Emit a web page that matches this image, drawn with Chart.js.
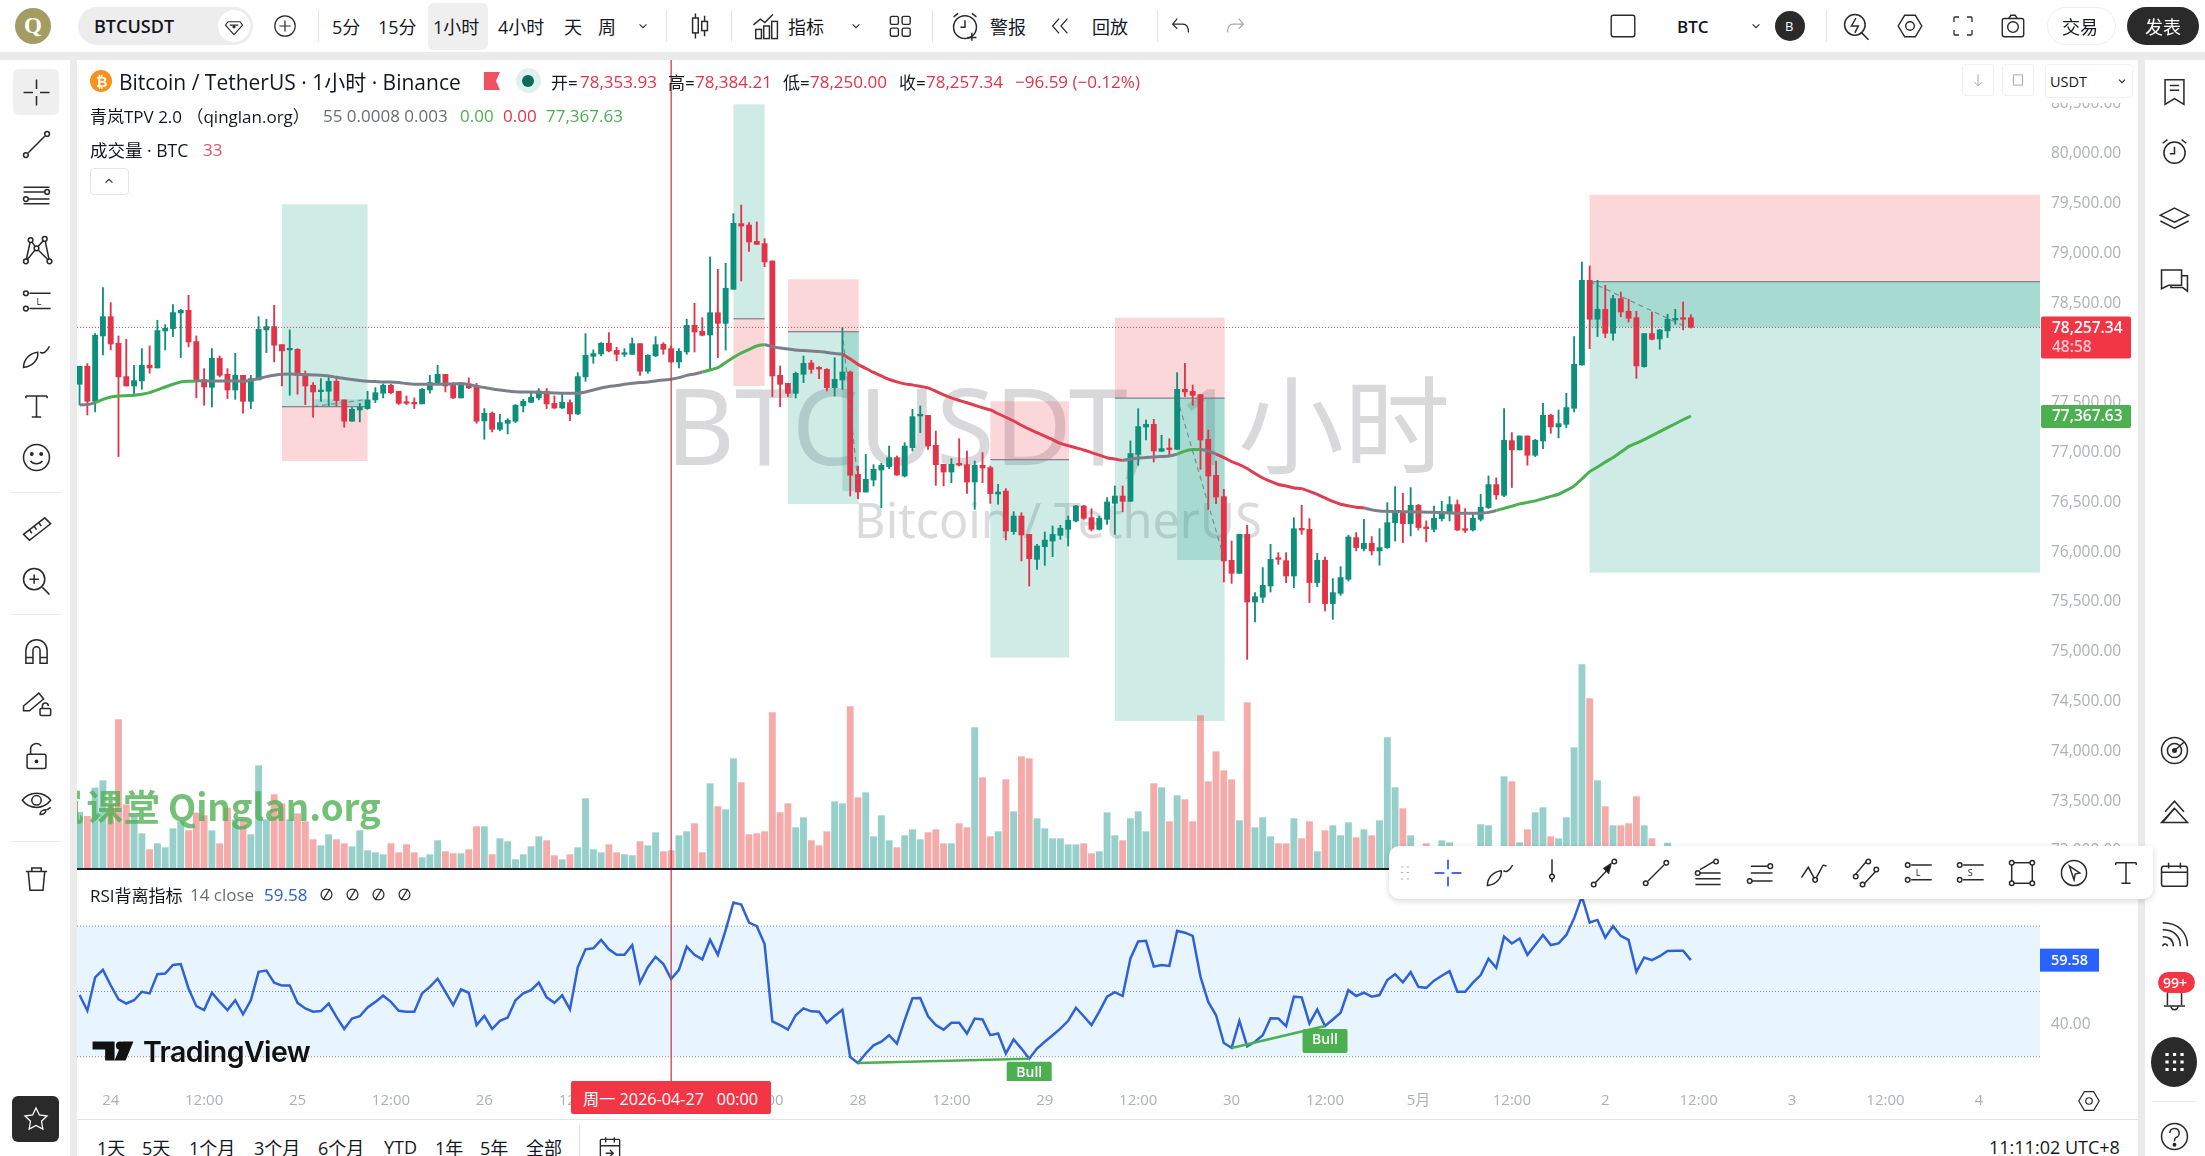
<!DOCTYPE html>
<html>
<head>
<meta charset="utf-8">
<title>BTCUSDT 1小时</title>
<script src="https://cdn.jsdelivr.net/npm/chart.js@4/dist/chart.umd.js"></script>
<style>
  html, body { margin: 0; padding: 0; width: 2205px; height: 1156px; overflow: hidden; background: #ebebeb;
    font-family: "Open Sans", "Noto Sans CJK SC", sans-serif; color: #131722; }
  canvas { position: absolute; z-index: 3; }
  .b { position: absolute; box-sizing: border-box; }
  .t { position: absolute; transform: translateY(-50%); white-space: nowrap; z-index: 6; }
  svg { position: absolute; z-index: 6; fill: none; stroke: #2a2a2a; stroke-width: 1.3; }
  .up { color: #089981; } .dn { color: #e23449; }
</style>
</head>
<body>
<script>
// OHLC of the 1h bars, Apr 23 20:00 -> May 2 11:00
const opens = [
  77686,77867,77515,78171,78365,78098,77763,77669,77720,77877,
  77850,78222,78245,78402,78429,78115,77733,77656,77947,77786,
  77629,77776,77515,77730,78232,78265,78084,78031,78037,77776,
  77676,77612,77616,77716,77529,77315,77428,77442,77529,77596,
  77676,77616,77502,77495,77489,77629,77696,77786,77683,77549,
  77686,77663,77318,77395,77234,77294,77315,77469,77505,77549,
  77616,77495,77448,77502,77388,77760,77967,77991,78098,78027,
  77987,77987,78094,77817,77971,78088,78044,77910,78011,78278,
  78218,78181,78405,78298,78640,79299,79285,79121,79098,78924,
  77776,77696,77595,77786,77900,77846,77836,77652,77729,77809,
  76782,76604,76725,76825,76859,76949,76765,77050,77368,77374,
  77073,76882,76805,76882,76879,76705,76872,76849,76584,76614,
  76206,76363,76179,75928,76055,76112,76169,76230,76313,76464,
  76347,76230,76330,76491,76564,76511,76983,77257,77284,77013,
  77040,77033,77635,77615,77582,77133,76772,76558,75918,75788,
  76179,75500,75547,75661,75935,75915,75761,76230,76230,75695,
  75919,75484,75587,75728,76146,76036,76090,76013,76046,76297,
  76407,76287,76471,76247,76230,76337,76397,76478,76230,76223,
  76330,76448,76679,76571,77120,77027,77167,76973,77117,77375,
  77258,77284,77445,77880,78730,78339,78439,78198,78546,78419,
  78355,77863,78195,78141,78222,78332,78349,78353.93
];
const highs = [
  77867,77894,78195,78657,78506,78171,78138,77877,78044,78071,
  78329,78285,78486,78439,78580,78171,77843,78044,77971,77843,
  77997,77776,77776,78365,78339,78479,78084,78232,78044,77820,
  77703,77743,77760,77750,77529,77452,77495,77616,77653,77689,
  77689,77616,77569,77549,77643,77776,77877,77786,77703,77696,
  77750,77696,77442,77408,77385,77341,77482,77535,77602,77643,
  77643,77569,77596,77529,77803,78195,78031,78104,78205,78058,
  78044,78151,78094,77984,78165,78104,78071,78044,78339,78499,
  78355,78964,78840,78901,79399,79486,79309,79316,79148,78924,
  77870,77696,77809,77970,77927,77863,77843,77953,78255,77819,
  76865,76983,76879,76892,77066,76966,77100,77435,77468,77374,
  77217,76882,76939,77140,77016,76915,77000,76865,76681,76638,
  76407,76397,76179,76079,76203,76263,76270,76363,76471,76471,
  76437,76363,76548,76665,76665,77117,77441,77327,77334,77174,
  77140,77803,77896,77679,77585,77227,76915,76631,76112,76179,
  76270,75594,75845,76079,75995,75995,76347,76471,76337,75989,
  75952,75735,75855,76170,76197,76330,76157,76237,76498,76659,
  76592,76649,76481,76314,76464,76511,76558,76525,76438,76381,
  76582,76766,76746,77442,77201,77167,77167,77134,77495,77385,
  77428,77596,78165,78914,78874,78730,78680,78580,78613,78540,
  78419,78195,78412,78238,78389,78439,78513,78384.21
];
const lows = [
  77479,77378,77408,77981,78031,76960,77669,77569,77636,77797,
  77850,78031,78165,77954,78061,77549,77475,77458,77760,77542,
  77535,77395,77442,77730,78004,77910,77669,77576,77586,77482,
  77355,77515,77469,77469,77254,77315,77308,77435,77502,77549,
  77592,77482,77482,77442,77489,77596,77686,77609,77542,77549,
  77643,77294,77134,77207,77218,77187,77301,77408,77502,77529,
  77442,77442,77442,77321,77381,77716,77897,77971,78011,77920,
  77964,77984,77776,77797,77964,77987,77904,77850,77987,78010,
  78171,77836,77953,78030,78640,78723,79021,79091,78867,77562,
  77461,77562,77548,77702,77796,77742,77619,77568,77635,76564,
  76537,76604,76665,76447,76839,76772,76755,77016,77200,77033,
  76671,76665,76698,76865,76591,76430,76698,76490,76481,76123,
  76179,75912,75660,75828,75868,75955,76129,76062,76303,76330,
  76213,76223,76280,76179,76404,76511,76872,77127,76906,77013,
  76966,77033,77562,77475,76832,76430,76487,75701,75687,75788,
  74924,75299,75494,75600,75878,75694,75644,76180,75494,75654,
  75410,75326,75567,75711,76013,76013,75972,75869,76039,76113,
  76096,76163,76223,76103,76203,76314,76314,76217,76197,76213,
  76314,76438,76531,76558,76649,77027,76873,76960,77040,77194,
  77147,77251,77408,77877,78044,78165,78155,78128,78365,78312,
  77746,77857,78131,78037,78155,78289,78232,78250
];
const closes = [
  77867,77515,78178,78365,78091,77760,77669,77723,77877,77850,
  78225,78248,78406,78429,78111,77720,77659,77947,77776,77629,
  77776,77515,77743,78238,78265,78078,78021,78037,77776,77669,
  77609,77622,77716,77522,77315,77435,77458,77529,77602,77676,
  77602,77495,77495,77489,77636,77703,77786,77669,77549,77683,
  77649,77315,77395,77234,77301,77325,77475,77515,77555,77619,
  77489,77448,77505,77388,77763,77977,77994,78098,78021,77987,
  77994,78094,77817,77977,78084,78037,77910,78017,78278,78211,
  78178,78405,78298,78650,79302,79275,79115,79091,78914,77769,
  77686,77595,77796,77896,77836,77839,77652,77736,77809,76772,
  76604,76732,76832,76872,76949,76775,77066,77361,77374,77066,
  76879,76805,76882,76875,76705,76872,76845,76588,76604,76213,
  76363,76173,75935,76062,76122,76179,76240,76320,76464,76340,
  76230,76340,76504,76564,76511,76990,77261,77284,77016,77040,
  77030,77635,77609,77575,77127,76765,76554,75912,75788,76179,
  75500,75554,75667,75928,75928,75761,76236,76223,75695,75919,
  75484,75594,75745,76153,76046,76090,76013,76046,76297,76407,
  76287,76471,76247,76237,76340,76404,76478,76223,76220,76340,
  76451,76679,76575,77124,77027,77167,76973,77124,77375,77258,
  77291,77452,77887,78730,78339,78439,78198,78546,78412,78349,
  77870,78195,78138,78232,78339,78345,78339,78257.34
];
const volumes = [
  680,632,972,1060,772,1792,772,632,424,232,
  304,256,484,568,460,672,640,460,304,732,
  592,592,412,1240,592,892,784,592,664,568,
  352,280,412,352,304,268,460,220,196,172,
  304,196,292,196,136,172,340,208,184,184,
  232,508,508,172,364,328,112,172,268,388,
  340,160,112,172,256,844,232,196,292,196,
  172,160,328,280,436,208,220,400,448,544,
  196,1024,748,712,1324,1036,412,424,448,1876,
  676,784,496,616,340,280,448,808,784,1948,
  856,916,388,640,340,256,400,472,352,436,
  472,304,304,544,496,1696,1096,388,448,1072,
  688,1348,1324,604,484,364,364,292,292,304,
  184,208,676,400,340,604,688,448,1024,976,
  568,880,832,568,1840,1048,1408,1180,1072,580,
  1996,496,616,388,304,304,604,364,568,208,
  460,520,400,556,376,472,400,580,1576,976,
  724,400,272,304,252,340,316,232,192,232,
  532,520,232,1108,1048,316,472,676,736,388,
  364,616,1456,2452,2044,1060,748,520,520,544,
  868,520,364,272,312,272,252,33
];
const emaValues = [
  77479,77482,77502,77535,77559,77569,77572,77576,77586,77602,
  77629,77659,77686,77709,77716,77720,77720,77720,77720,77720,
  77720,77716,77726,77743,77763,77776,77786,77790,77786,77783,
  77780,77776,77770,77756,77743,77733,77723,77716,77713,77709,
  77709,77703,77693,77686,77686,77686,77686,77689,77689,77693,
  77683,77666,77653,77639,77629,77619,77612,77609,77609,77606,
  77602,77599,77596,77596,77596,77609,77629,77649,77663,77673,
  77686,77696,77703,77709,77720,77730,77736,77753,77775,77790,
  77809,77830,77853,77905,77955,78000,78035,78070,78084,78064,
  78050,78040,78030,78025,78020,78014,78005,77995,77987,77940,
  77886,77845,77805,77770,77735,77710,77690,77680,77665,77650,
  77615,77580,77550,77525,77500,77475,77450,77428,77390,77355,
  77317,77275,77235,77200,77165,77130,77093,77070,77048,77026,
  77000,76975,76949,76935,76922,76935,76945,76950,76955,76960,
  76966,76985,77015,77030,77030,77016,76985,76950,76910,76880,
  76840,76790,76745,76710,76680,76665,76645,76638,76610,76580,
  76545,76510,76481,76465,76452,76444,76425,76414,76410,76408,
  76407,76405,76403,76402,76401,76397,76394,76391,76391,76391,
  76391,76400,76418,76440,76462,76485,76500,76515,76538,76560,
  76582,76620,76665,76735,76809,76855,76905,76950,77005,77060,
  77095,77130,77170,77210,77250,77290,77330,77367.63
];
// bar index where the EMA colour changes, and which trend it takes from there
const trendStarts = [0, 2, 15, 80, 88, 98, 134, 141, 144, 146, 165, 182];
const trendNames = ['flat','up','flat','up','flat','down','flat','up','flat','down','flat','up'];
const rsiValues = [
  48.9,44.1,54.3,56.6,51.9,47.6,46.3,47.3,49.9,49.4,
  55.3,55.5,58.1,58.4,50.9,45.5,44.3,49.6,46.8,44.3,
  47.3,43.0,47.3,56.0,56.4,52.7,51.8,51.8,46.5,44.8,
  43.8,44.0,46.3,42.2,38.5,41.7,42.4,45.1,46.8,48.7,
  46.8,44.1,43.8,43.8,49.4,51.4,53.9,49.9,45.8,50.6,
  49.6,39.7,42.5,38.5,41.0,42.0,47.3,49.4,50.4,52.7,
  48.2,46.5,48.8,44.5,57.4,62.9,63.2,65.8,62.9,61.2,
  61.2,64.2,52.7,57.4,60.6,58.4,53.8,56.6,63.7,61.2,
  59.8,65.8,61.2,68.8,77.2,76.6,71.1,70.0,64.5,40.8,
  39.7,38.3,42.7,44.8,43.9,43.8,40.4,42.5,44.4,29.9,
  28.1,31.0,33.5,34.6,36.6,34.0,41.2,47.9,48.0,42.4,
  39.7,38.3,40.4,40.4,37.1,41.7,41.4,36.6,37.1,31.0,
  35.3,32.5,29.4,32.5,34.6,36.6,38.6,41.0,45.0,42.4,
  39.7,43.8,48.4,49.8,48.6,60.1,65.3,65.5,57.6,58.1,
  57.8,68.6,68.0,67.0,54.5,46.8,42.7,34.2,32.7,41.0,
  33.2,34.6,36.6,41.8,41.7,39.4,48.4,48.2,40.2,44.5,
  39.4,41.4,43.5,50.4,48.6,49.6,48.4,48.9,53.5,55.3,
  52.8,55.9,51.4,51.1,53.3,54.8,56.2,49.9,49.9,52.7,
  55.0,60.0,57.2,66.8,64.7,66.2,61.2,64.2,67.3,64.2,
  64.7,67.3,72.4,79.1,71.1,71.9,66.5,70.0,67.0,65.8,
  56.0,60.4,59.6,60.8,62.4,62.5,62.5,59.58
];
// long/short position tools: bar range and price levels
const boxStart = [26, 84, 91, 117, 133, 194];
const boxEnd = [37, 88, 100.1, 127.1, 147.1, 251.85];
const boxUpper = [79493, 80497, 78740, 77515, 78355, 79589];
const boxEntry = [77462, 78345, 78215, 76930, 77548, 78717];
const boxLower = [76916, 77669, 76484, 74942, 74305, 75795];
const boxIsLong = [true, true, false, false, false, false];
// the played out part of four of them, with the dashed path
const pathStart = [30, 98, 141, 194];
const pathEnd = [37, 100.1, 147.1, 206.5];
const pathFrom = [77462, 78215, 77548, 78717];
const pathTo = [77535, 76614, 75922, 78257];
const priceTicks = [73000,73500,74000,74500,75000,75500,76000,76500,77000,77500,78000,78500,79000,79500,80000,80500];
const rsiTicks = [40, 60, 80];
const rsiLevels = [70, 50, 30];
const timeTickBars = [4,16,28,40,52,64,76,88,100,112,124,136,148,160,172,184,196,208,220,232,244];
const timeTickLabels = ['24','12:00','25','12:00','26','12:00','27','12:00','28','12:00','29','12:00','30','12:00','5月','12:00','2','12:00','3','12:00','4'];
const bullBars = [[100, 122], [148, 160]];
const bullRsi = [[28.1, 29.4], [32.7, 39.4]];
const crosshairBar = 76;
const lastPrice = 78257.34;
const lastEma = 77367.63;
const lastRsi = 59.58;

const X_MIN = -0.33, X_MAX = 251.85;
const COL_UP = '#0e8f7c', COL_DOWN = '#e23449';
const TREND_COL = { up: '#4caf50', down: '#de3e50', flat: '#7d7f88' };
const FONT = '"Open Sans", "Noto Sans CJK SC", sans-serif';
const AXIS_GREY = '#adb0b8';

const bars = closes.map((c, i) => i);
const isUp = i => closes[i] >= opens[i];

function trendColor(i) {
  let k = 0;
  while (k + 1 < trendStarts.length && trendStarts[k + 1] <= i) k++;
  return TREND_COL[trendNames[k]];
}

// --- page chrome helpers ---
function box(x, y, w, h, css) {
  const el = document.createElement('div');
  el.className = 'b';
  el.style.cssText = `left:${x}px;top:${y}px;width:${w}px;height:${h}px;` + (css || '');
  document.body.appendChild(el);
  return el;
}
function put(x, y, html, css) {
  const el = document.createElement('div');
  el.className = 't';
  el.style.cssText = `left:${x}px;top:${y}px;font-size:17px;` + (css || '');
  el.innerHTML = html;
  document.body.appendChild(el);
  return el;
}
function icon(cx, cy, size, markup, css) {
  const holder = document.createElement('div');
  holder.innerHTML = `<svg viewBox="0 0 28 28" width="${size}" height="${size}" style="left:${cx - size / 2}px;top:${cy - size / 2}px;${css || ''}">${markup}</svg>`;
  document.body.appendChild(holder.firstChild);
}

// backgrounds
box(0, 0, 2205, 52, 'background:#fff;');
box(0, 60, 70, 1096, 'background:#fff;');
box(2145, 60, 60, 1096, 'background:#fff;');
box(77, 60, 2061, 1096, 'background:#fff;');
box(77, 1119, 2061, 1, 'background:#e3e3e3;z-index:4;');

// watermarks sit under the canvas
put(1058, 419, 'BTCUSDT, 1小时', 'transform:translate(-50%,-50%);font-size:106px;color:#d9d9dc;z-index:1;font-family:"Noto Sans","Noto Sans CJK SC",sans-serif;font-weight:400;');
put(1058, 519, 'Bitcoin / TetherUS', 'transform:translate(-50%,-50%);font-size:48.5px;color:#dbdbde;z-index:1;font-family:"Noto Sans",sans-serif;font-weight:400;');

// --- charts ---
function addCanvas(x, y, w, h) {
  const c = document.createElement('canvas');
  c.width = w; c.height = h;
  c.style.cssText = `left:${x}px;top:${y}px;width:${w}px;height:${h}px;`;
  document.body.appendChild(c);
  return c;
}
function pointsOf(values) { return values.map((v, i) => ({ x: i, y: v })); }
function xScale(display) {
  return {
    type: 'linear', min: X_MIN, max: X_MAX, offset: false, display: display,
    grid: { display: false, drawTicks: false }, border: { display: false },
    afterBuildTicks: s => { s.ticks = timeTickBars.map(v => ({ value: v })); },
    afterFit: s => { s.height = display ? 38 : 0; s.paddingLeft = 0; s.paddingRight = 0; },
    ticks: {
      autoSkip: false, maxRotation: 0, minRotation: 0, padding: 11, color: AXIS_GREY,
      font: { size: 15, family: FONT },
      callback: v => timeTickLabels[timeTickBars.indexOf(v)]
    }
  };
}
function priceScale(tickList, fmt, min, max) {
  return {
    type: 'linear', position: 'right', min: min, max: max,
    grid: { display: false, drawTicks: false }, border: { display: false },
    afterBuildTicks: s => { s.ticks = tickList.map(v => ({ value: v })); },
    afterFit: s => { s.width = 97; s.paddingTop = 0; s.paddingBottom = 0; },
    ticks: { padding: 11, color: AXIS_GREY, font: { size: 15.5, family: FONT }, callback: fmt }
  };
}
const money = v => v.toLocaleString('en-US', { minimumFractionDigits: 2, maximumFractionDigits: 2 });

function priceTag(ctx, area, y, h, col, lines) {
  ctx.fillStyle = col;
  ctx.beginPath();
  ctx.roundRect(area.right + 1, y, 90, h, 2);
  ctx.fill();
  ctx.textBaseline = 'middle';
  ctx.textAlign = 'left';
  ctx.font = '600 15.5px ' + FONT;
  lines.forEach((ln, k) => {
    ctx.fillStyle = ln.col;
    ctx.fillText(ln.text, area.right + 12, y + ln.dy);
  });
}

const positionTools = {
  id: 'positionTools',
  beforeDatasetsDraw(chart) {
    const { ctx, chartArea: a, scales: { x, y } } = chart;
    const GREEN = 'rgba(8,153,129,0.2)', RED = 'rgba(242,54,69,0.2)';
    ctx.save();
    ctx.beginPath(); ctx.rect(a.left, a.top, a.width, a.height); ctx.clip();
    boxStart.forEach((b, k) => {
      const x0 = x.getPixelForValue(b), x1 = x.getPixelForValue(boxEnd[k]);
      const top = y.getPixelForValue(boxUpper[k]), mid = y.getPixelForValue(boxEntry[k]), bot = y.getPixelForValue(boxLower[k]);
      ctx.fillStyle = boxIsLong[k] ? GREEN : RED;
      ctx.fillRect(x0, top, x1 - x0, mid - top);
      ctx.fillStyle = boxIsLong[k] ? RED : GREEN;
      ctx.fillRect(x0, mid, x1 - x0, bot - mid);
      ctx.fillStyle = '#7d8088';
      ctx.fillRect(x0, mid - 0.5, x1 - x0, 1.2);
    });
    pathStart.forEach((b, k) => {
      const x0 = x.getPixelForValue(b), x1 = x.getPixelForValue(k === 3 ? X_MAX : pathEnd[k]);
      const y0 = y.getPixelForValue(pathFrom[k]), y1 = y.getPixelForValue(k === 3 ? lastPrice : pathTo[k]);
      ctx.fillStyle = 'rgba(8,153,129,0.2)';
      ctx.fillRect(x0, Math.min(y0, y1), x1 - x0, Math.abs(y1 - y0));
    });
    ctx.restore();
  },
  afterDatasetsDraw(chart) {
    const { ctx, chartArea: a, scales: { x, y } } = chart;
    ctx.save();
    // dashed paths over the candles
    ctx.strokeStyle = 'rgba(110,115,125,0.75)';
    ctx.lineWidth = 1.2;
    ctx.setLineDash([5, 4]);
    pathStart.forEach((b, k) => {
      ctx.beginPath();
      ctx.moveTo(x.getPixelForValue(b), y.getPixelForValue(pathFrom[k]));
      ctx.lineTo(x.getPixelForValue(pathEnd[k]), y.getPixelForValue(pathTo[k]));
      ctx.stroke();
    });
    ctx.setLineDash([]);
    // crosshair
    const cx = x.getPixelForValue(crosshairBar);
    ctx.strokeStyle = '#c9404a';
    ctx.lineWidth = 1.3;
    ctx.beginPath(); ctx.moveTo(cx, a.top); ctx.lineTo(cx, a.bottom); ctx.stroke();
    // last price and EMA tags on the axis
    const py = y.getPixelForValue(lastPrice);
    priceTag(ctx, a, py - 11, 42, '#f23645', [
      { text: money(lastPrice), col: '#fff', dy: 12 },
      { text: '48:58', col: '#ffc6cc', dy: 31 }
    ]);
    const ey = y.getPixelForValue(lastEma);
    priceTag(ctx, a, ey - 11, 23, '#4caf50', [{ text: money(lastEma), col: '#fff', dy: 12 }]);
    ctx.restore();
  }
};

new Chart(addCanvas(77, 60, 2060, 809), {
  type: 'bar',
  plugins: [positionTools],
  data: {
    datasets: [
      {
        type: 'line', label: 'EMA', data: pointsOf(emaValues), yAxisID: 'y', pointRadius: 0, borderWidth: 3,
        tension: 0.2, borderColor: TREND_COL.flat, segment: { borderColor: c => trendColor(c.p0DataIndex) }
      },
      {
        type: 'line', label: 'last', data: [{ x: X_MIN, y: lastPrice }, { x: X_MAX, y: lastPrice }], yAxisID: 'y',
        pointRadius: 0, borderWidth: 1, borderColor: '#b5505c', borderDash: [1, 2]
      },
      {
        label: 'body', data: bars.map(i => ({ x: i, y: [opens[i], closes[i]] })), yAxisID: 'y', grouped: false,
        barThickness: 5.2, minBarLength: 1.6, borderWidth: 0,
        backgroundColor: bars.map(i => isUp(i) ? COL_UP : COL_DOWN)
      },
      {
        label: 'wick', data: bars.map(i => ({ x: i, y: [lows[i], highs[i]] })), yAxisID: 'y', grouped: false,
        barThickness: 1.2, borderWidth: 0,
        backgroundColor: bars.map(i => isUp(i) ? COL_UP : COL_DOWN)
      },
      {
        label: 'volume', data: bars.map(i => ({ x: i, y: volumes[i] })), yAxisID: 'yVol', grouped: false,
        barThickness: 6.2, borderWidth: 0,
        backgroundColor: bars.map(i => isUp(i) ? 'rgba(28,150,140,0.46)' : 'rgba(232,80,76,0.48)')
      }
    ]
  },
  options: {
    responsive: false, animation: false, events: [],
    layout: { padding: 0 },
    plugins: { legend: { display: false }, tooltip: { enabled: false } },
    scales: {
      x: xScale(false),
      y: priceScale(priceTicks, money, 72819, 80942),
      yVol: { type: 'linear', display: false, min: 0, max: 9708 }
    }
  }
});

const rsiDecor = {
  id: 'rsiDecor',
  beforeDatasetsDraw(chart) {
    const { ctx, chartArea: a, scales: { y } } = chart;
    const hi = y.getPixelForValue(rsiLevels[0]), lo = y.getPixelForValue(rsiLevels[2]);
    ctx.save();
    ctx.fillStyle = 'rgba(33,150,243,0.1)';
    ctx.fillRect(a.left, hi, a.width, lo - hi);
    ctx.strokeStyle = '#85888f';
    ctx.lineWidth = 1;
    ctx.setLineDash([1, 2]);
    rsiLevels.forEach(l => {
      const p = y.getPixelForValue(l);
      ctx.beginPath(); ctx.moveTo(a.left, p); ctx.lineTo(a.right, p); ctx.stroke();
    });
    ctx.restore();
  },
  afterDatasetsDraw(chart) {
    const { ctx, chartArea: a, scales: { x, y } } = chart;
    ctx.save();
    ctx.beginPath(); ctx.rect(a.left, a.top, a.width, a.height); ctx.clip();
    bullBars.forEach((pair, k) => {
      const px = x.getPixelForValue(pair[1]), py = y.getPixelForValue(bullRsi[k][1]) + 3;
      ctx.fillStyle = '#4caf50';
      ctx.beginPath(); ctx.roundRect(px - 22.5, py, 45, 24, 2); ctx.fill();
      ctx.fillStyle = '#fff';
      ctx.font = '600 14px ' + FONT;
      ctx.textAlign = 'center';
      ctx.textBaseline = 'middle';
      ctx.fillText('Bull', px, py + 11);
    });
    const cx = x.getPixelForValue(crosshairBar);
    ctx.strokeStyle = '#c9404a';
    ctx.lineWidth = 1.3;
    ctx.beginPath(); ctx.moveTo(cx, a.top); ctx.lineTo(cx, a.bottom); ctx.stroke();
    ctx.restore();
    ctx.save();
    const ry = y.getPixelForValue(lastRsi);
    ctx.fillStyle = '#2962ff';
    ctx.fillRect(a.right, ry - 11.5, 59, 23);
    ctx.fillStyle = '#fff';
    ctx.font = '600 14.5px ' + FONT;
    ctx.textAlign = 'center';
    ctx.textBaseline = 'middle';
    ctx.fillText(lastRsi.toFixed(2), a.right + 29.5, ry + 0.5);
    ctx.restore();
  }
};

new Chart(addCanvas(77, 869, 2060, 250), {
  type: 'line',
  plugins: [rsiDecor],
  data: {
    datasets: [
      {
        label: 'bull1', data: bullBars[0].map((b, k) => ({ x: b, y: bullRsi[0][k] })),
        pointRadius: 0, borderWidth: 2.6, borderColor: '#4caf50'
      },
      {
        label: 'bull2', data: bullBars[1].map((b, k) => ({ x: b, y: bullRsi[1][k] })),
        pointRadius: 0, borderWidth: 2.6, borderColor: '#4caf50'
      },
      { label: 'RSI', data: pointsOf(rsiValues), pointRadius: 0, borderWidth: 2.5, borderColor: '#2f62d6' }
    ]
  },
  options: {
    responsive: false, animation: false, events: [],
    layout: { padding: 0 },
    plugins: { legend: { display: false }, tooltip: { enabled: false } },
    scales: {
      x: xScale(true),
      y: priceScale(rsiTicks, v => v.toFixed(2), 22.57, 87.5)
    }
  }
});

// --- things drawn over the charts ---
box(77, 868, 1963, 2, 'background:#1c1f26;z-index:4;');
box(2041, 60, 96, 43, 'background:#fff;z-index:4;');

// green site watermark, clipped by the pane edge
const site = box(77, 781, 320, 50, 'overflow:hidden;z-index:5;');
site.innerHTML = '<div style="position:absolute;left:-30px;top:0;white-space:nowrap;font-size:36.6px;font-weight:700;line-height:50px;color:rgba(76,175,80,.78);font-family:\'Noto Sans CJK SC\',sans-serif;">岚<span style="margin-left:3px;">课堂 Qinglan.org</span></div>';

// TradingView mark
icon(113, 1051, 44, '<path d="M3 8h14v12h-6v-7H3z M29 8h-7l-5 12h7z" transform="translate(-2,0)" fill="#111" stroke="none"/><circle cx="18.5" cy="10.6" r="2.6" fill="#111" stroke="none"/>');
put(143, 1051, 'TradingView', 'font-family:Inter,sans-serif;font-weight:600;font-size:28.5px;letter-spacing:-0.6px;color:#111;');

// crosshair date on the time axis
box(571, 1081, 200, 33, 'background:#f23645;border-radius:2px;z-index:5;');
put(583, 1098, '周一 2026-04-27&nbsp;&nbsp;&nbsp;00:00', 'color:#fff;font-size:16.2px;');

// legend rows
box(90, 70, 22, 22, 'background:#f7931a;border-radius:50%;z-index:6;');
put(96, 81, '₿', 'color:#fff;font-size:14px;font-weight:700;');
put(119, 81, 'Bitcoin / TetherUS · 1小时 · Binance', 'font-size:21px;');
box(484, 72, 16, 18, 'background:#f0525f;clip-path:polygon(0 0,100% 0,75% 50%,100% 100%,0 100%);z-index:6;');
box(516, 68, 25, 25, 'background:#dff1ee;border-radius:50%;z-index:6;');
box(522, 75, 12, 12, 'background:#0b6b5b;border-radius:50%;z-index:6;');
const ohlcRow = [[551,'开=',''],[580,'78,353.93','dn'],[668,'高=',''],[695,'78,384.21','dn'],[783,'低=',''],[810,'78,250.00','dn'],[899,'收=',''],[926,'78,257.34','dn'],[1015,'−96.59 (−0.12%)','dn']];
ohlcRow.forEach(r => put(r[0], 81, r[1]).classList.add(r[2] || 'x'));
put(90, 115, '青岚TPV 2.0 （qinglan.org）');
put(323, 115, '55 0.0008 0.003', 'color:#6a6d78;');
put(460, 115, '0.00', 'color:#4caf50;');
put(503, 115, '0.00', 'color:#e23449;');
put(546, 115, '77,367.63', 'color:#4caf50;');
put(90, 149, '成交量 · BTC', 'font-size:17.5px;');
put(203, 149, '33', 'color:#e0555e;');
box(90, 168, 39, 27, 'background:#fff;border:1px solid #e3e5ea;border-radius:4px;z-index:6;');
icon(109, 181, 16, '<path d="M8 17l6-6 6 6" stroke-width="2"/>');

put(90, 894, 'RSI背离指标');
put(190, 894, '14 close', 'color:#6a6d78;');
put(264, 894, '59.58', 'color:#2962c8;');
[326, 352, 378, 404].forEach(x => icon(x, 894, 19, '<circle cx="14" cy="14" r="8" stroke-width="1.8"/><path d="M9 22 19 6" stroke-width="1.8"/>'));

// price pane corner buttons
box(1962, 64, 32, 32, 'background:#fff;border:1px solid #f0f0f2;border-radius:4px;z-index:6;');
icon(1978, 80, 18, '<path d="M14 5v18M8 17l6 6 6-6" stroke="#999"/>');
box(2002, 64, 32, 32, 'background:#fff;border:1px solid #f0f0f2;border-radius:4px;z-index:6;');
icon(2018, 80, 18, '<path d="M7 9V6h14v3M7 19v3h14v-3M7 9v10M21 9v10" stroke="#999"/>');
box(2045, 64, 88, 34, 'background:#fff;border:1px solid #f0f0f2;border-radius:4px;z-index:6;');
put(2050, 81, 'USDT', 'font-size:14.5px;');
icon(2122, 81, 12, '<path d="M7 11l7 7 7-7" stroke-width="2.4"/>');

// top toolbar
box(15, 8, 36, 36, 'background:#a39c63;border-radius:50%;z-index:6;');
put(24, 26, 'Q', 'color:#fff;font:700 23px "Liberation Serif",serif;');
box(78, 7, 175, 38, 'background:#ededed;border-radius:19px;z-index:5;');
put(94, 26, 'BTCUSDT', 'font-size:18px;font-weight:600;');
box(218, 10, 32, 32, 'background:#fff;border-radius:50%;z-index:6;');
icon(234, 26, 24, '<path d="M7 9h14l3 4-10 11L4 13z M9 13h10"/><circle cx="14" cy="15" r="1.2" fill="#222"/>', 'z-index:7;');
icon(285, 26, 26, '<circle cx="14" cy="14" r="11"/><path d="M14 8v12M8 14h12"/>');
[318, 666, 731, 932, 1157, 1826].forEach(x => box(x, 10, 1, 32, 'background:#e4e4e4;z-index:6;'));
box(428, 3, 60, 47, 'background:#efefef;border-radius:6px;z-index:5;');
[[332,'5分'],[378,'15分'],[433,'1小时'],[498,'4小时'],[564,'天'],[598,'周'],[788,'指标'],[990,'警报'],[1092,'回放']].forEach(t => put(t[0], 26, t[1], 'font-size:18px;'));
put(1677, 26, 'BTC', 'font-size:17px;font-weight:600;');
const chevron = '<path d="M8 11l6 6 6-6" stroke-width="1.8"/>';
[[643, 26], [856, 26], [1756, 26]].forEach(p => icon(p[0], p[1], 16, chevron));
icon(700, 26, 32, '<path d="M10 3v22M18 5v18"/><rect x="7.5" y="7" width="5" height="13" fill="#fff"/><rect x="15.5" y="10" width="5" height="8" fill="#fff"/>');
icon(766, 26, 32, '<path d="M3 13 9 8l4 3 7-7"/><rect x="5" y="17" width="5" height="8"/><rect x="12" y="14" width="5" height="11"/><rect x="19" y="10" width="5" height="15"/>');
icon(900, 26, 30, '<rect x="5" y="5" width="7.5" height="7.5" rx="1.5"/><rect x="16" y="5" width="7.5" height="7.5" rx="1.5"/><rect x="5" y="16" width="7.5" height="7.5" rx="1.5"/><rect x="16" y="16" width="7.5" height="7.5" rx="1.5"/>');
icon(965, 26, 32, '<circle cx="14" cy="15" r="10"/><path d="M14 9v6h-4M4 6l4-3M24 6l-4-3M20 20v7M16 24h8"/>');
icon(1060, 26, 26, '<path d="M13 6 6 14l7 8M22 6l-7 8 7 8"/>');
icon(1181, 26, 26, '<path d="M10 6 5 12l5 5M5 12h11c4 0 6 3 6 9"/>');
icon(1235, 26, 26, '<path d="M18 6l5 6-5 5M23 12H12c-4 0-6 3-6 9" stroke="#aaa"/>');
icon(1623, 26, 30, '<rect x="3" y="4" width="22" height="20" rx="2"/>');
box(1775, 11, 30, 30, 'background:#2a2a2a;border-radius:50%;z-index:6;');
put(1785, 26, 'B', 'color:#fff;font-size:13px;');
icon(1856, 26, 32, '<circle cx="13" cy="13" r="9"/><path d="M19 20l6 6M14 7l-4 7h6l-3 6"/>');
icon(1910, 26, 30, '<path d="M9 4h10l6 10-6 10H9L3 14z"/><circle cx="14" cy="14" r="4"/>');
icon(1963, 26, 28, '<path d="M5 10V6a1 1 0 0 1 1-1h4M18 5h4a1 1 0 0 1 1 1v4M23 18v4a1 1 0 0 1-1 1h-4M10 23H6a1 1 0 0 1-1-1v-4"/>');
icon(2013, 26, 30, '<rect x="4" y="7" width="20" height="17" rx="2"/><circle cx="14" cy="15" r="5"/><path d="M10 7l2-3h4l2 3"/>');
box(2047, 7, 69, 38, 'background:#fff;border:1px solid #eee;border-radius:19px;z-index:5;');
put(2062, 26, '交易', 'font-size:18px;');
box(2127, 7, 72, 38, 'background:#2a2a2a;border-radius:19px;z-index:5;');
put(2145, 26, '发表', 'font-size:18px;color:#fff;');

// left toolbar
box(13, 69, 46, 46, 'background:#efefef;border-radius:6px;z-index:5;');
const iconLine = '<circle cx="5" cy="23" r="2"/><circle cx="23" cy="5" r="2"/><path d="M7 21 21 7"/>';
const iconChannel = '<path d="M3 7h22M3 11h18M7 17h18M3 21h22"/><circle cx="23" cy="11" r="2" fill="#fff"/><circle cx="5" cy="17" r="2" fill="#fff"/>';
const iconFork = '<path d="M5 24 9 6l5 7 7-8 4 19M5 24l9-11 11 11"/><circle cx="9" cy="6" r="2" fill="#fff"/><circle cx="21" cy="5" r="2" fill="#fff"/><circle cx="14" cy="13" r="2" fill="#fff"/><circle cx="5" cy="24" r="2" fill="#fff"/><circle cx="25" cy="24" r="2" fill="#fff"/>';
const iconLong = '<path d="M8 7h18M8 20h18"/><circle cx="5" cy="7" r="2"/><circle cx="5" cy="20" r="2"/>';
const iconBrush = '<path d="M3 25c0-7 5-12 12-13 1 6-4 12-12 13zM17 12c3 2 6-1 8-5"/>';
const iconText = '<path d="M5 5h18M14 5v18M10 23h8M5 5v2M23 5v2"/>';
const iconCross = '<path d="M14 3v8M14 17v8M3 14h8M17 14h8"/>';
[[92,iconCross],[144,iconLine],[195,iconChannel],[249,iconFork],[301,iconLong+'<text x="14" y="17" font-size="8" fill="#222" stroke="none">L</text>'],[354,iconBrush],[406,iconText],
 [457,'<circle cx="14" cy="14" r="11"/><path d="M9 17c2 3 8 3 10 0"/><circle cx="10" cy="11" r="1" fill="#222"/><circle cx="18" cy="11" r="1" fill="#222"/>'],
 [528,'<path d="M3 19 21 5l5 5L8 24zM8 15l2 3M12 12l2 3M16 9l2 3"/>'],
 [581,'<circle cx="12" cy="12" r="9"/><path d="M12 8v8M8 12h8M19 19l6 6"/>'],
 [651,'<path d="M5 24V13a9 9 0 0 1 18 0v11h-6V13a3 3 0 0 0-6 0v11zM5 19h6M17 19h6"/>'],
 [702,'<path d="M3 17 16 6l4 5L8 21H3z"/><rect x="17" y="19" width="9" height="6" rx="1"/><path d="M19 19v-2a2.5 2.5 0 0 1 5 0"/>'],
 [755,'<rect x="6" y="13" width="16" height="12" rx="1.5"/><path d="M9 13V8a5 5 0 0 1 9-2"/><circle cx="14" cy="19" r="1" fill="#222"/>'],
 [801,'<path d="M2 13c6-8 18-8 24 0-6 8-18 8-24 0z"/><circle cx="14" cy="13" r="4"/><path d="M17 25c0-3 3-4 5-4 0 3-2 4-5 4zM23 21l3-2"/>'],
 [878,'<path d="M5 8h18M7 8l1.5 16h11L21 8M10 8V5h8v3"/>']
].forEach(p => icon(36, p[0], 33, p[1]));
[492, 614, 841].forEach(y => box(10, y, 52, 1, 'background:#eaeaea;z-index:6;'));
box(12, 1096, 47, 46, 'background:#2a2a2a;border-radius:6px;z-index:6;');
icon(36, 1119, 28, '<path d="M14 3l3.4 7 7.6 1-5.5 5.3 1.3 7.7-6.8-3.6L7.2 24l1.3-7.7L3 11l7.6-1z" stroke="#fff"/>', 'z-index:7;');

// right toolbar
[[91,'<path d="M6 4h16v21l-8-5-8 5zM10 9h8M10 13h8"/>'],
 [151,'<circle cx="14" cy="15" r="9"/><path d="M14 10v6h-4M4 7l4-3M24 7l-4-3"/>'],
 [217,'<path d="M14 6 26 12 14 18 2 12zM2 17l12 6 12-6"/>'],
 [280,'<path d="M3 5h17v13H9l-6 3zM20 10h5v13l-4-3H11v-2"/>'],
 [750,'<circle cx="14" cy="14" r="11"/><circle cx="14" cy="14" r="6"/><circle cx="14" cy="14" r="1.5" fill="#222"/><path d="M14 14 22 7"/>'],
 [809,'<path d="M3 25 14 13l11 12zM6 16l8-9 8 9" /><path d="M14 13 4 25"/>'],
 [874,'<rect x="3" y="7" width="22" height="17" rx="2"/><path d="M3 12h22M9 4v5M19 4v5"/>'],
 [934,'<path d="M4 24c0-1 1-2 2-2s2 1 2 2M4 16c6 0 9 3 9 8M4 10c9 0 15 5 15 14M4 4c13 0 21 8 21 20"/>'],
 [995,'<path d="M8 22V13a6 6 0 0 1 12 0v9M5 23h18M11 23a3 3 0 0 0 6 0"/>'],
 [1136,'<circle cx="14" cy="14" r="11"/><path d="M10 11a4 4 0 1 1 5 4c-1 .5-1 1-1 3"/><circle cx="14" cy="21" r="1" fill="#222"/>']
].forEach(p => icon(2174, p[0], 33, p[1]));
box(2158, 972, 37, 21, 'background:#f23645;border-radius:11px;z-index:7;');
put(2163, 982, '99+', 'color:#fff;font-size:14px;font-weight:600;z-index:8;');
box(2151, 1037, 46, 50, 'background:#2a2a2a;border-radius:50%;z-index:6;');
icon(2174, 1062, 30, '<path d="M6 7h3M13 7h3M20 7h3M6 14h3M13 14h3M20 14h3M6 21h3M13 21h3M20 21h3" stroke="#fff" stroke-width="3"/>', 'z-index:7;');
box(2152, 1101, 44, 1, 'background:#eaeaea;z-index:6;');

// floating drawing bar
box(1389, 846, 764, 53, 'background:#fff;border-radius:0 0 10px 10px;border-top-left-radius:10px;box-shadow:0 2px 6px rgba(0,0,0,.16);z-index:5;');
icon(1405, 873, 26, '<path d="M11 7v1M17 7v1M11 13v1M17 13v1M11 20v1M17 20v1" stroke="#aaa" stroke-width="2.2"/>');
icon(1448, 873, 34, '<path d="M14 3v8M14 17v8M3 14h8M17 14h8" stroke="#3f6df0" stroke-width="1.6"/>');
[[1500,iconBrush],[1552,'<path d="M14 2v20"/><circle cx="14" cy="17" r="2" fill="#fff"/>'],
 [1604,'<path d="M6 23 20 8"/><path d="M20 6l-6 4 4 4z" fill="#111"/><circle cx="5" cy="24" r="2"/><circle cx="23" cy="4" r="2"/>'],
 [1656,iconLine],[1708,'<path d="M7 11 19 4M3 14h22M3 19h22M3 24h22"/><circle cx="5" cy="14" r="2" fill="#fff"/><circle cx="21" cy="4" r="2" fill="#fff"/>'],
 [1760,'<path d="M6 8h19M6 14h19M6 21h19"/><circle cx="23" cy="8" r="2" fill="#fff"/><circle cx="5" cy="21" r="2" fill="#fff"/>'],
 [1814,'<path d="M3 18 9 9l6 11 7-13M22 7l3 1"/><circle cx="15" cy="20" r="2" fill="#fff"/>'],
 [1866,'<path d="M5 15 15 3M11 25 23 12"/><circle cx="5" cy="17" r="2" fill="#fff"/><circle cx="16" cy="4" r="2" fill="#fff"/><circle cx="11" cy="24" r="2" fill="#fff"/><circle cx="23" cy="11" r="2" fill="#fff"/>'],
 [1918,iconLong+'<text x="12" y="17" font-size="8" fill="#222" stroke="none">L</text>'],
 [1970,iconLong+'<text x="12" y="17" font-size="8" fill="#222" stroke="none">S</text>'],
 [2022,'<rect x="5" y="5" width="18" height="18"/><circle cx="5" cy="5" r="2" fill="#fff"/><circle cx="23" cy="5" r="2" fill="#fff"/><circle cx="5" cy="23" r="2" fill="#fff"/><circle cx="23" cy="23" r="2" fill="#fff"/>'],
 [2074,'<circle cx="14" cy="14" r="11"/><path d="M10 8l9 6-4 1-1 5z"/>'],
 [2126,iconText]
].forEach(p => icon(p[0], 873, 32, p[1]));

// bottom bar
[[97,'1天'],[142,'5天'],[189,'1个月'],[254,'3个月'],[318,'6个月'],[384,'YTD'],[435,'1年'],[480,'5年'],[526,'全部']].forEach(t => put(t[0], 1147, t[1], 'font-size:18px;'));
box(579, 1125, 1, 31, 'background:#e4e4e4;z-index:6;');
icon(610, 1149, 30, '<rect x="5" y="5" width="18" height="19" rx="1"/><path d="M5 11h18M10 3v5M18 3v5M10 18h7M14 15l3 3-3 3"/>');
put(1989, 1147, '11:11:02 UTC+8', 'font-size:18px;');
icon(2089, 1101, 26, '<path d="M9 4h10l6 10-6 10H9L3 14z"/><circle cx="14" cy="14" r="3.5"/>');
</script>
</body>
</html>
